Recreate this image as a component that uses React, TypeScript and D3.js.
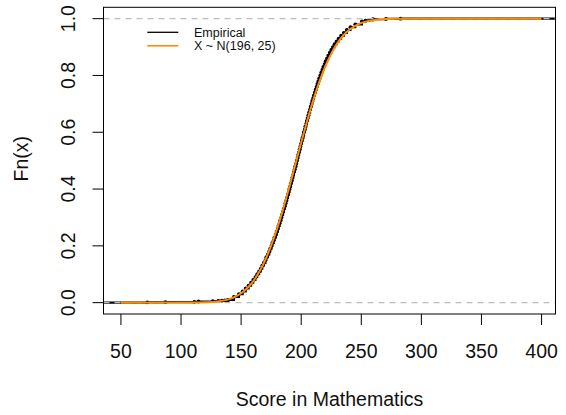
import React from "react";
import * as d3 from "d3";

// ECDF jumps: score and Fn value after the jump
const ecdfX: number[] = [
  72, 87, 111, 114.5, 126.5, 131, 134, 136.5, 138.5,
  139.5, 144.0, 148.2, 151.3, 153.8, 156.2, 158.3, 160.1, 161.9, 163.4,
  165.0, 166.4, 167.6, 168.9, 170.2, 171.0, 172.3, 173.4, 174.2, 175.3,
  176.0, 177.1, 177.8, 178.9, 179.6, 180.5, 181.1, 182.0, 182.6, 183.5,
  184.1, 184.9, 185.4, 186.3, 186.9, 187.6, 188.3, 188.9, 189.6, 190.1,
  190.9, 191.4, 192.1, 192.6, 193.4, 193.9, 194.6, 195.1, 195.9, 196.3,
  197.0, 197.5, 198.2, 198.7, 199.3, 199.9, 200.5, 201.0, 201.8, 202.2,
  203.0, 203.4, 204.2, 204.7, 205.3, 206.0, 206.6, 207.3, 207.9, 208.6,
  209.2, 210.0, 210.6, 211.4, 212.0, 212.8, 213.5, 214.3, 215.0, 215.9,
  216.7, 217.6, 218.4, 219.5, 220.4, 221.5, 222.6, 223.8, 225.0, 226.4,
  227.8, 229.5, 231.2, 233.2, 235.5, 238.0, 241.0, 245.0, 250.5,
  253.5, 256.5, 259.7, 270.5, 282.7,
];
const ecdfF: number[] = [
  0.001, 0.002, 0.003, 0.004, 0.005, 0.006, 0.007, 0.008, 0.009,
  0.01, 0.02, 0.03, 0.04, 0.05, 0.06, 0.07, 0.08, 0.09, 0.10,
  0.11, 0.12, 0.13, 0.14, 0.15, 0.16, 0.17, 0.18, 0.19, 0.20,
  0.21, 0.22, 0.23, 0.24, 0.25, 0.26, 0.27, 0.28, 0.29, 0.30,
  0.31, 0.32, 0.33, 0.34, 0.35, 0.36, 0.37, 0.38, 0.39, 0.40,
  0.41, 0.42, 0.43, 0.44, 0.45, 0.46, 0.47, 0.48, 0.49, 0.50,
  0.51, 0.52, 0.53, 0.54, 0.55, 0.56, 0.57, 0.58, 0.59, 0.60,
  0.61, 0.62, 0.63, 0.64, 0.65, 0.66, 0.67, 0.68, 0.69, 0.70,
  0.71, 0.72, 0.73, 0.74, 0.75, 0.76, 0.77, 0.78, 0.79, 0.80,
  0.81, 0.82, 0.83, 0.84, 0.85, 0.86, 0.87, 0.88, 0.89, 0.90,
  0.91, 0.92, 0.93, 0.94, 0.95, 0.96, 0.97, 0.98, 0.99,
  0.993, 0.995, 0.998, 0.999, 1.0,
];

// Fitted normal curve X ~ N(196, 25)
const normX: number[] = [
  50, 100, 110, 120, 130, 140, 145, 150, 155, 160, 165, 170, 175, 180, 185,
  190, 195, 200, 205, 210, 215, 220, 225, 230, 235, 240, 245, 250, 255, 260,
  265, 270, 280, 290, 300, 400,
];
const normF: number[] = [
  0, 0.0001, 0.0003, 0.0012, 0.0041, 0.0125, 0.0207, 0.0329, 0.0505, 0.0749,
  0.1075, 0.1492, 0.2005, 0.2611, 0.33, 0.4052, 0.484, 0.5636, 0.6406, 0.7123,
  0.7764, 0.8315, 0.877, 0.9131, 0.9406, 0.9608, 0.975, 0.9846, 0.9909, 0.9948,
  0.9971, 0.9985, 0.9996, 0.9999, 1, 1,
];

const xTicks: number[] = [50, 100, 150, 200, 250, 300, 350, 400];
const yTicks: number[] = [0, 0.2, 0.4, 0.6, 0.8, 1.0];
const yTickLabels: string[] = ["0.0", "0.2", "0.4", "0.6", "0.8", "1.0"];
const legendLabels: string[] = ["Empirical", "X ~ N(196, 25)"];
const xTitle = "Score in Mathematics";
const yTitle = "Fn(x)";

const W = 566;
const H = 415;
const FONT = "'Liberation Sans', Arial, Helvetica, sans-serif";
const ORANGE = "#FF8C00";

export default function App() {
  const left = 103.5, right = 555.5, top = 7.3, bottom = 314;
  const x = d3.scaleLinear().domain([35.5, 411.6]).range([left, right]);
  const y = d3.scaleLinear().domain([-0.04, 1.04]).range([bottom, top]);

  const stepPts: [number, number][] = [[35.5, 0]];
  ecdfX.forEach((v, i) => stepPts.push([v, ecdfF[i]]));
  stepPts.push([411.6, 1]);
  const stepLine = d3
    .line<[number, number]>()
    .x((d) => x(d[0]))
    .y((d) => y(d[1]))
    .curve(d3.curveStepAfter);

  const normLine = d3
    .line<number>()
    .x((d) => x(d))
    .y((_, i) => y(normF[i]))
    .curve(d3.curveMonotoneX);

  const tickLen = 11;

  return (
    <svg
      width={W}
      height={H}
      style={{ position: "fixed", top: 0, left: 0, background: "#fff" }}
      fontFamily={FONT}
    >
      <rect x={0} y={0} width={W} height={H} fill="#fff" />
      {/* ECDF */}
      <path d={stepLine(stepPts) || ""} fill="none" stroke="#000" strokeWidth={2.2} />
      {ecdfX.map((v, i) => (
        <circle key={i} cx={x(v)} cy={y(ecdfF[i])} r={1.9} fill="#000" />
      ))}
      {/* reference lines at 0 and 1 */}
      {[0, 1].map((v) => (
        <line
          key={v}
          x1={left}
          x2={right}
          y1={y(v)}
          y2={y(v)}
          stroke="#bdbdbd"
          strokeWidth={1.2}
          strokeDasharray="6,5"
        />
      ))}
      {/* normal curve */}
      <path d={normLine(normX) || ""} fill="none" stroke={ORANGE} strokeWidth={2} />
      {/* box */}
      <rect x={left} y={top} width={right - left} height={bottom - top} fill="none" stroke="#000" strokeWidth={1} />
      {/* x axis */}
      {xTicks.map((t) => (
        <g key={t}>
          <line x1={x(t)} x2={x(t)} y1={bottom} y2={bottom + tickLen} stroke="#000" strokeWidth={1} />
          <text x={x(t)} y={358.3} textAnchor="middle" fontSize={19.5} fill="#111">
            {t}
          </text>
        </g>
      ))}
      {/* y axis */}
      {yTicks.map((t, i) => (
        <g key={t}>
          <line x1={left - tickLen} x2={left} y1={y(t)} y2={y(t)} stroke="#000" strokeWidth={1} />
          <text
            transform={`translate(75,${y(t)}) rotate(-90)`}
            textAnchor="middle"
            fontSize={19.5}
            fill="#111"
          >
            {yTickLabels[i]}
          </text>
        </g>
      ))}
      <text x={(left + right) / 2} y={405.5} textAnchor="middle" fontSize={19.5} fill="#111">
        {xTitle}
      </text>
      <text transform={`translate(28,${(top + bottom) / 2 - 2}) rotate(-90)`} textAnchor="middle" fontSize={19.5} fill="#111">
        {yTitle}
      </text>
      {/* legend */}
      <line x1={147.3} x2={178.3} y1={32.3} y2={32.3} stroke="#000" strokeWidth={1.3} />
      <line x1={147.3} x2={178.3} y1={45.8} y2={45.8} stroke={ORANGE} strokeWidth={1.6} />
      <text x={194} y={36.6} fontSize={12.5} fill="#111">
        {legendLabels[0]}
      </text>
      <text x={194} y={50.3} fontSize={12.5} fill="#111">
        {legendLabels[1]}
      </text>
    </svg>
  );
}
